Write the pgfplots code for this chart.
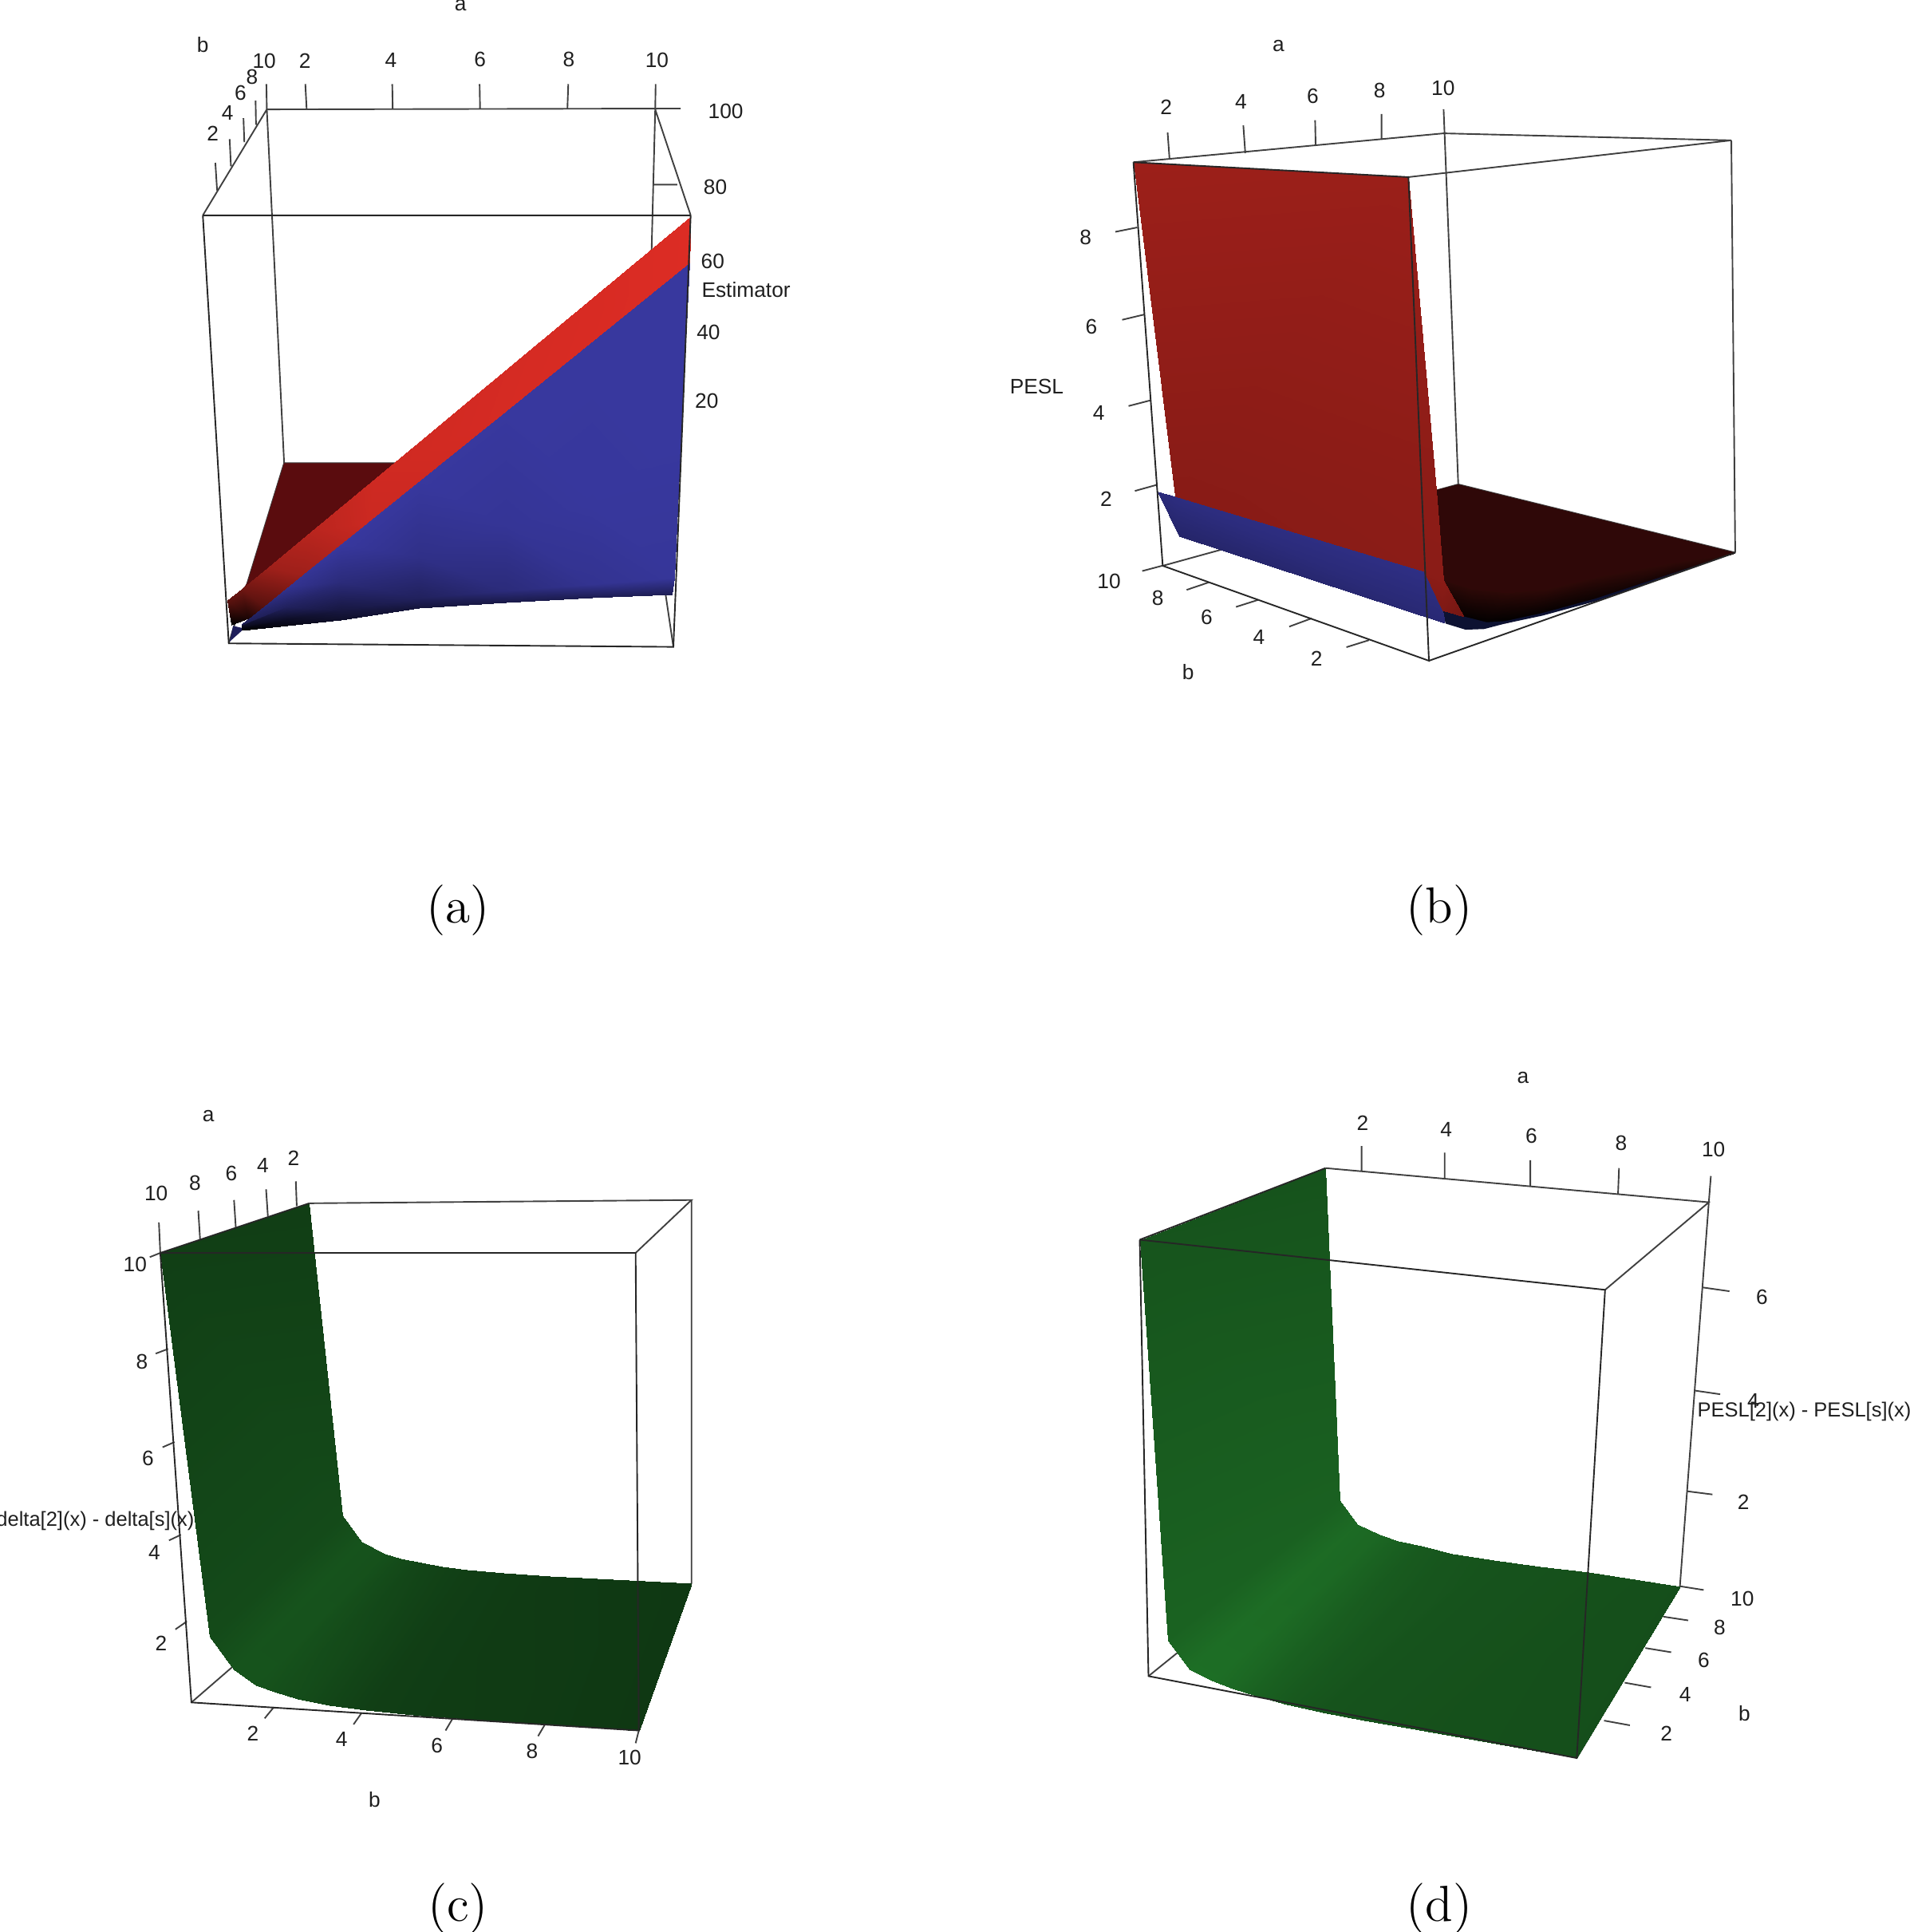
\documentclass[border=0pt]{standalone}
\usepackage{fontspec}
\usepackage{pgfplots}
\pgfplotsset{compat=1.18}
\newfontfamily\labfam{Liberation Sans}
\def\u{0.064787mm}
\definecolor{lnc}{gray}{0.25}
\definecolor{txc}{gray}{0.12}
\pgfplotsset{
  colormap={redm}{rgb255=(0,0,0) rgb255=(220,44,36)},
  colormap={bluem}{rgb255=(0,0,0) rgb255=(60,60,170)},
  colormap={greenm}{rgb255=(0,0,0) rgb255=(30,112,38)},
  panel/.style n args={4}{
    at={({#1*\u},{(2421-#2-#4)*\u})},anchor=south west,
    width=#3*\u,height=#4*\u,scale only axis,
    xmin=0,xmax=1568,ymin=0,ymax=1568,y dir=reverse,hide axis,clip=false,
    point meta min=0,point meta max=1,unbounded coords=jump},
  ln/.style={draw=lnc,line width=0.35pt,forget plot},
  fr/.style={draw=black!85,line width=0.35pt,forget plot},
  shade/.style={patch,shader=interp,point meta=explicit,colormap name=#1,forget plot,table/row sep=\\},
  conn4/.style={patch table={0 1 2\\1 2 3\\2 3 4\\3 4 5\\4 5 6\\5 6 7\\}},
  conn7/.style={patch table={0 1 2\\1 2 3\\2 3 4\\3 4 5\\4 5 6\\5 6 7\\6 7 8\\7 8 9\\8 9 10\\9 10 11\\10 11 12\\11 12 13\\}},
  conn11/.style={patch table={0 1 2\\1 2 3\\2 3 4\\3 4 5\\4 5 6\\5 6 7\\6 7 8\\7 8 9\\8 9 10\\9 10 11\\10 11 12\\11 12 13\\12 13 14\\13 14 15\\14 15 16\\15 16 17\\16 17 18\\17 18 19\\18 19 20\\19 20 21\\}},
}
\tikzset{lab/.style={font=\labfam\fontsize{4.85}{6}\selectfont,text=txc,inner sep=0pt}}
\begin{document}
\begin{tikzpicture}
\path[use as bounding box] (0,0) rectangle ({2394*\u},{2421*\u});

% ---------- panel a
\begin{axis}[panel={200}{0}{850}{860}]
\addplot[ln] coordinates {(248,250)(1205,248)(nan,nan)(100,492)(248,250)(nan,nan)(1228,492)(1146,250)(nan,nan)
 (248,250)(288,1058)(nan,nan)(1146,250)(1125,1058)(nan,nan)(160,1470)(288,1058)(nan,nan)(1188,1478)(1125,1058)(nan,nan)
 (288,1058)(1125,1058)(nan,nan)(1140,422)(1197,422)(nan,nan)
 (337,192)(340,248)(nan,nan)(538,192)(539,248)(nan,nan)(740,192)(741,248)(nan,nan)(945,192)(943,248)(nan,nan)(1147,192)(1146,250)(nan,nan)
 (129,372)(133,435)(nan,nan)(162,318)(165,380)(nan,nan)(194,270)(196,325)(nan,nan)(222,230)(223,285)(nan,nan)(247,192)(248,250)};
\addplot[fill={rgb,255:red,90;green,12;blue,14},draw=none,forget plot] coordinates {(288,1058)(545,1058)(190,1350)(203,1331)} --cycle;
\addplot[fill={rgb,255:red,30;green,30;blue,90},draw=none,forget plot] coordinates {(162,1466)(170,1430)(196,1436)} --cycle;
\addplot[shade=bluem,conn7] table[x=x,y=y,meta=c] {x y c\\
1225 600 .93\\1205 1000 .93\\1000 780 .93\\1000 1150 .92\\800 939 .93\\800 1200 .88\\600 1098 .93\\600 1270 .8\\418 1243 .93\\418 1330 .72\\295 1340 .85\\295 1385 .55\\190 1425 .5\\190 1430 .2\\};
\addplot[shade=bluem,conn7] table[x=x,y=y,meta=c] {x y c\\
1205 1000 .93\\1190 1320 .9\\1000 1150 .92\\1000 1335 .85\\800 1200 .88\\800 1350 .72\\600 1270 .8\\600 1365 .55\\418 1330 .72\\418 1395 .38\\295 1385 .55\\295 1415 .22\\190 1430 .2\\190 1436 .05\\};
\addplot[shade=bluem,conn7] table[x=x,y=y,meta=c] {x y c\\
1190 1320 .9\\1185 1358 .5\\1000 1335 .85\\1000 1365 .48\\800 1350 .72\\800 1377 .42\\600 1365 .55\\600 1390 .35\\418 1395 .38\\418 1416 .25\\295 1415 .22\\295 1430 .12\\190 1436 .05\\190 1440 0\\};
\addplot[shade=redm,conn7] table[x=x,y=y,meta=c] {x y c\\
1228 495 1\\1225 600 1\\850 805 .97\\800 939 .97\\500 1092 .94\\480 1194 .92\\350 1215 .84\\330 1313 .72\\250 1297 .72\\240 1385 .4\\190 1345 .5\\205 1413 .12\\157 1372 .42\\166 1428 0\\};
\addplot[fr] coordinates {(100,492)(1228,492)(nan,nan)(100,492)(160,1470)(1188,1478)(1228,492)};
\node[lab] at (axis cs:696,12) {a};
\node[lab] at (axis cs:100,102) {b};
\node[lab] at (axis cs:336,140) {2};
\node[lab] at (axis cs:535,137) {4};
\node[lab] at (axis cs:741,135) {6};
\node[lab] at (axis cs:946,135) {8};
\node[lab] at (axis cs:1150,137) {10};
\node[lab] at (axis cs:123,305) {2};
\node[lab] at (axis cs:157,258) {4};
\node[lab] at (axis cs:187,212) {6};
\node[lab] at (axis cs:214,175) {8};
\node[lab] at (axis cs:242,140) {10};
\node[lab] at (axis cs:1309,255) {100};
\node[lab] at (axis cs:1285,427) {80};
\node[lab] at (axis cs:1279,597) {60};
\node[lab] at (axis cs:1269,760) {40};
\node[lab] at (axis cs:1265,917) {20};
\node[lab] at (axis cs:1356,662) {Estimator};
\end{axis}

% ---------- panel b
\begin{axis}[panel={1240}{30}{960}{860}]
\addplot[ln] coordinates {(295,316)(930,250)(1519,266)(858,350)(nan,nan)(930,195)(932,250)(960,1052)(1527,1208)(nan,nan)(355,1238)(960,1052)(nan,nan)
 (1519,266)(1527,1208)(nan,nan)(365,248)(369,310)(nan,nan)(520,232)(524,295)(nan,nan)(667,220)(668,277)(nan,nan)(803,206)(803,265)(nan,nan)
 (258,475)(303,465)(nan,nan)(272,676)(317,664)(nan,nan)(285,873)(330,860)(nan,nan)(298,1067)(343,1053)(nan,nan)
 (313,1250)(357,1237)(nan,nan)(404,1293)(449,1276)(nan,nan)(505,1332)(550,1316)(nan,nan)(614,1377)(660,1358)(nan,nan)(731,1424)(777,1408)};
\addplot[fill={rgb,255:red,47;green,8;blue,8},draw=none,forget plot] coordinates {(915,1065)(960,1052)(1527,1208)(1241,1319)(1056,1370)(972,1354)(930,1270)} --cycle;
\addplot[shade=redm,conn7] table[x=x,y=y,meta=c] {x y c\\
930 1270 .2\\972 1354 .02\\985 1290 .2\\1018 1367 .01\\1060 1300 .2\\1056 1364.5 .01\\1140 1290 .21\\1132 1346 .03\\1250 1262 .21\\1241 1313 .06\\1400 1230 .21\\1400 1253 .12\\1527 1208 .21\\1526 1208 .2\\};
\addplot[fill={rgb,255:red,13;green,18;blue,50},draw=none,forget plot] coordinates {(928,1340)(972,1354)(1018,1367)(1056,1364.5)(1132,1346)(1241,1313)(1527,1208)(1241,1319)(1132,1352)(1056,1370)(1013,1382.5)(975,1384)(934,1370)} --cycle;
\addplot[patch,shader=interp,point meta=explicit,colormap name=bluem,forget plot,table/row sep=\\,patch table={0 1 2\\1 2 3\\2 3 4\\3 4 5\\}] table[x=x,y=y,meta=c] {x y c\\
345 1068 .72\\388 1170 .62\\380 1080 .75\\932 1370 .68\\890 1250 .78\\928 1340 .72\\};
\addplot[shade=redm,conn4] table[x=x,y=y,meta=c] {x y c\\
295 316 .71\\858 350 .7\\380 1080 .62\\915 1065 .64\\890 1250 .63\\930 1270 .63\\928 1340 .58\\972 1354 .52\\};
\addplot[fr] coordinates {(295,316)(858,350)(900,1455)(355,1238)(295,316)(nan,nan)(900,1455)(1527,1208)};
\node[lab] at (axis cs:592,50) {a};
\node[lab] at (axis cs:362,190) {2};
\node[lab] at (axis cs:515,178) {4};
\node[lab] at (axis cs:662,165) {6};
\node[lab] at (axis cs:799,153) {8};
\node[lab] at (axis cs:929,146) {10};
\node[lab] at (axis cs:197,487) {8};
\node[lab] at (axis cs:209,692) {6};
\node[lab] at (axis cs:224,888) {4};
\node[lab] at (axis cs:239,1086) {2};
\node[lab] at (axis cs:97,828) {PESL};
\node[lab] at (axis cs:245,1273) {10};
\node[lab] at (axis cs:345,1311) {8};
\node[lab] at (axis cs:445,1356) {6};
\node[lab] at (axis cs:552,1402) {4};
\node[lab] at (axis cs:670,1450) {2};
\node[lab] at (axis cs:407,1480) {b};
\end{axis}

% ---------- panel c
\begin{axis}[panel={0}{1360}{900}{920}]
\addplot[ln] coordinates {(675,252)(1510,245)(1388,358)(nan,nan)(1510,245)(1510,1063)(1395,1378)(nan,nan)(418,1318)(510,1240)(nan,nan)
 (347,293)(350,358)(nan,nan)(433,268)(437,330)(nan,nan)(511,245)(515,305)(nan,nan)(581,222)(585,280)(nan,nan)(646,205)(648,258)(nan,nan)
 (327,367)(350,358)(nan,nan)(340,573)(367,563)(nan,nan)(355,773)(381,762)(nan,nan)(369,972)(395,960)(nan,nan)(383,1162)(408,1145)(nan,nan)
 (578,1352)(598,1328)(nan,nan)(772,1365)(790,1340)(nan,nan)(973,1378)(988,1353)(nan,nan)(1175,1390)(1190,1365)(nan,nan)(1388,1405)(1395,1378)};
\addplot[shade=greenm,conn11] table[x=x,y=y,meta=c] {x y c\\
675 252 .55\\350 358 .56\\748 918 .66\\458 1178 .66\\790 975 .74\\510 1248 .74\\840 1000 .72\\560 1282 .74\\875 1011 .67\\600 1296 .71\\920 1020 .62\\650 1310 .68\\965 1028 .59\\720 1324 .62\\1020 1035 .56\\800 1335 .56\\1100 1042 .54\\920 1346 .54\\1200 1048 .52\\1050 1355 .53\\1510 1063 .5\\1395 1378 .5\\};
\addplot[fr] coordinates {(350,358)(675,252)(nan,nan)(350,358)(1388,358)(1395,1378)(418,1318)(350,358)};
\node[lab] at (axis cs:455,65) {a};
\node[lab] at (axis cs:341,230) {10};
\node[lab] at (axis cs:426,208) {8};
\node[lab] at (axis cs:505,188) {6};
\node[lab] at (axis cs:574,172) {4};
\node[lab] at (axis cs:641,155) {2};
\node[lab] at (axis cs:295,382) {10};
\node[lab] at (axis cs:310,590) {8};
\node[lab] at (axis cs:323,797) {6};
\node[lab] at (axis cs:337,997) {4};
\node[lab] at (axis cs:352,1192) {2};
\node[lab,font=\labfam\fontsize{4.7}{6}\selectfont] at (axis cs:208,930) {delta[2](x) - delta[s](x)};
\node[lab] at (axis cs:552,1385) {2};
\node[lab] at (axis cs:746,1397) {4};
\node[lab] at (axis cs:954,1410) {6};
\node[lab] at (axis cs:1162,1423) {8};
\node[lab] at (axis cs:1375,1435) {10};
\node[lab] at (axis cs:818,1525) {b};
\end{axis}

% ---------- panel d
\begin{axis}[panel={1380}{1320}{1014}{920}]
\addplot[ln] coordinates {(435,245)(1178,318)(977,505)(nan,nan)(1182,262)(1178,318)(1122,1138)(922,1505)(nan,nan)(92,1330)(165,1265)(nan,nan)
 (505,198)(505,250)(nan,nan)(666,212)(666,268)(nan,nan)(832,228)(832,284)(nan,nan)(1004,245)(1002,302)(nan,nan)
 (1167,500)(1218,508)(nan,nan)(1150,720)(1200,728)(nan,nan)(1135,935)(1185,942)(nan,nan)
 (1122,1138)(1168,1146)(nan,nan)(1090,1203)(1138,1211)(nan,nan)(1055,1270)(1105,1279)(nan,nan)(1015,1344)(1066,1354)(nan,nan)(975,1425)(1025,1435)};
\addplot[shade=greenm,conn11] table[x=x,y=y,meta=c] {x y c\\
435 245 .74\\75 398 .75\\462 955 .86\\130 1255 .88\\497 1005 .95\\172 1315 .98\\540 1028 .92\\215 1340 .98\\575 1041 .86\\255 1357 .93\\620 1052 .8\\300 1372 .86\\680 1068 .76\\360 1390 .79\\760 1082 .74\\430 1408 .74\\850 1096 .73\\510 1425 .73\\945 1108 .72\\600 1442 .72\\1122 1138 .7\\922 1505 .7\\};
\addplot[fr] coordinates {(75,398)(435,245)(nan,nan)(75,398)(977,505)(922,1505)(92,1330)(75,398)};
\node[lab] at (axis cs:818,52) {a};
\node[lab] at (axis cs:507,148) {2};
\node[lab] at (axis cs:669,162) {4};
\node[lab] at (axis cs:834,176) {6};
\node[lab] at (axis cs:1008,192) {8};
\node[lab] at (axis cs:1187,206) {10};
\node[lab] at (axis cs:1281,520) {6};
\node[lab] at (axis cs:1264,742) {4};
\node[lab] at (axis cs:1245,958) {2};
\node[lab,font=\labfam\fontsize{4.7}{6}\selectfont] at (axis cs:1363,765) {PESL[2](x) - PESL[s](x)};
\node[lab] at (axis cs:1243,1165) {10};
\node[lab] at (axis cs:1199,1226) {8};
\node[lab] at (axis cs:1168,1296) {6};
\node[lab] at (axis cs:1132,1370) {4};
\node[lab] at (axis cs:1096,1452) {2};
\node[lab] at (axis cs:1247,1410) {b};
\end{axis}

% ---------- captions
\node[font=\fontsize{11.7}{13}\selectfont,inner sep=0pt] at ({574*\u},{(2421-1141)*\u}) {(a)};
\node[font=\fontsize{11.7}{13}\selectfont,inner sep=0pt] at ({1804*\u},{(2421-1141)*\u}) {(b)};
\node[font=\fontsize{11.7}{13}\selectfont,inner sep=0pt] at ({574*\u},{(2421-2392)*\u}) {(c)};
\node[font=\fontsize{11.7}{13}\selectfont,inner sep=0pt] at ({1804*\u},{(2421-2392)*\u}) {(d)};
\end{tikzpicture}
\end{document}
